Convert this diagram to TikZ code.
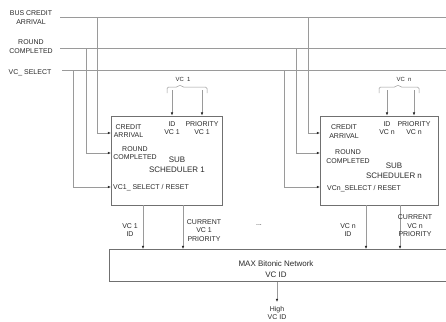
\documentclass[tikz,border=0pt]{standalone}
\usepackage{fontspec}
\setmainfont{Liberation Sans}
\usetikzlibrary{arrows.meta}
\definecolor{linegray}{HTML}{9A9A9A}
\definecolor{boxgray}{HTML}{707070}
\definecolor{txt}{HTML}{2A2A2A}
\tikzset{
  bus/.style={draw=linegray, line width=0.6bp},
  sig/.style={draw=linegray, line width=0.6bp, arrows={-{Latex[length=3.2bp,width=2.6bp,color=txt]}}},
  blk/.style={draw=boxgray, line width=0.8bp, inner sep=0, fill=white},
  lbl/.style={inner sep=0, text=txt, font=\fontsize{7}{8.5}\selectfont, align=center},
  lblb/.style={inner sep=0, text=txt, font=\fontsize{8}{10}\selectfont, align=center},
}
\begin{document}
\begin{tikzpicture}[x=1bp,y=-1bp]
\clip (0,0) rectangle (446,321);
\fill[white] (0,0) rectangle (446,321);

% blocks
\node[blk, minimum width=111bp, minimum height=89bp] (s1) at (166.5,160.5) {};
\node[blk, minimum width=118bp, minimum height=89bp] (sn) at (379,160.5) {};
\node[blk, minimum width=360bp, minimum height=32bp] (net) at (289,265.5) {};

% bus lines
\coordinate (bcA) at (60,17);   \coordinate (bcB) at (446,17);
\coordinate (rcA) at (60,48);   \coordinate (rcB) at (446,48);
\coordinate (vsA) at (62,70);   \coordinate (vsB) at (446,70);
\draw[bus] (bcA) -- (bcB);
\draw[bus] (rcA) -- (rcB);
\draw[bus] (vsA) -- (vsB);

\node[lbl] (lbc) at (31,17.5) {BUS CREDIT\\ARRIVAL};
\node[lbl] (lrc) at (31,46.5) {ROUND\\COMPLETED};
\node[lbl] (lvs) at (30,73) {VC\_ SELECT};

% taps to block 1
\coordinate (t1a) at (97,17);  \coordinate (e1a) at (111,133);
\coordinate (t1b) at (86,48);  \coordinate (e1b) at (111,153);
\coordinate (t1c) at (73,70);  \coordinate (e1c) at (111,187);
\draw[sig] (t1a) |- (e1a);
\draw[sig] (t1b) |- (e1b);
\draw[sig] (t1c) |- (e1c);
% taps to block n
\coordinate (tna) at (308,17);  \coordinate (ena) at (320,133);
\coordinate (tnb) at (296,48);  \coordinate (enb) at (320,153);
\coordinate (tnc) at (284,70);  \coordinate (enc) at (320,187);
\draw[sig] (tna) |- (ena);
\draw[sig] (tnb) |- (enb);
\draw[sig] (tnc) |- (enc);

% braces
\draw[bus, line width=0.5bp, rounded corners=1.5bp] (167,93) -- (167,87) -- (178,87) -- (180,84.5) -- (182,87) -- (207,87) -- (207,93);
\node[lbl, font=\fontsize{6}{7}\selectfont] (b1) at (183,79) {VC\ \ 1};
\draw[bus, line width=0.5bp, rounded corners=1.5bp] (379,93) -- (379,87) -- (396,87) -- (398,84.5) -- (400,87) -- (419,87) -- (419,93);
\node[lbl, font=\fontsize{6}{7}\selectfont] (bn) at (404,79) {VC\ \ n};

\coordinate (i1) at (172,90);  \coordinate (p1) at (202,90);
\coordinate (in) at (387,90);  \coordinate (pn) at (414,90);
\draw[sig] (i1) -- (i1 |- s1.north);
\draw[sig] (p1) -- (p1 |- s1.north);
\draw[sig] (in) -- (in |- sn.north);
\draw[sig] (pn) -- (pn |- sn.north);

% block 1 texts
\node[lbl] (s1id) at (172,128) {ID\\VC 1};
\node[lbl] (s1pr) at (202,128) {PRIORITY\\VC 1};
\node[lbl] (s1ca) at (128.5,131) {CREDIT\\ARRIVAL};
\node[lbl] (s1rc) at (135,153) {ROUND\\COMPLETED};
\node[lblb] (s1nm) at (177,165) {SUB\\SCHEDULER 1};
\node[lbl, anchor=west] (s1vs) at (113,188) {VC1\_ SELECT / RESET};

% block n texts
\node[lbl] (snid) at (387,128) {ID\\VC n};
\node[lbl] (snpr) at (414,128) {PRIORITY\\VC n};
\node[lbl] (snca) at (344,131.5) {CREDIT\\ARRIVAL};
\node[lbl] (snrc) at (348,156.5) {ROUND\\COMPLETED};
\node[lblb] (snnm) at (394,170.5) {SUB\\SCHEDULER n};
\node[lbl, anchor=west] (snvs) at (327,189) {VCn\_SELECT / RESET};

% outputs to network
\coordinate (o1a) at (143,0); \coordinate (o1b) at (183,0);
\coordinate (ona) at (366,0); \coordinate (onb) at (400,0);
\draw[sig] (o1a |- s1.south) -- (o1a |- net.north);
\draw[sig] (o1b |- s1.south) -- (o1b |- net.north);
\draw[sig] (ona |- sn.south) -- (ona |- net.north);
\draw[sig] (onb |- sn.south) -- (onb |- net.north);
\node[lbl] (l1a) at (130,230) {VC 1\\ID};
\node[lbl] (l1b) at (204,230.5) {CURRENT\\VC 1\\PRIORITY};
\node[lbl] (lna) at (348,230) {VC n\\ID};
\node[lbl] (lnb) at (415,226) {CURRENT\\VC n\\PRIORITY};
\node[lbl] (dots) at (259,225) {...};

% network
\node[lblb] (nett) at (276,269.5) {MAX Bitonic Network\\[1bp]VC ID};
\coordinate (hi) at (277,302);
\draw[sig] (hi |- net.south) -- (hi);
\node[lbl] (hil) at (277,313) {High\\VC ID};
\end{tikzpicture}
\end{document}
